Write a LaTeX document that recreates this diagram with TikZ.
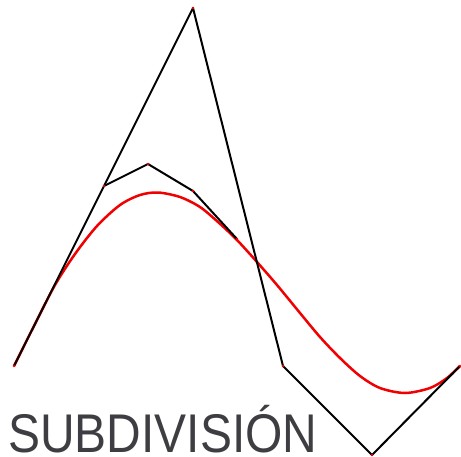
\documentclass[tikz,border=0pt]{standalone}
\usepackage{fontspec}
\setmainfont{Liberation Sans}
\definecolor{txtgray}{RGB}{62,62,66}
\definecolor{cred}{RGB}{240,0,0}
\tikzset{
  poly/.style={draw=black, line width=2pt, line join=round},
  curve/.style={draw=cred, line width=2.5pt},
  vdot/.style={circle, fill=cred, inner sep=0pt, minimum size=2.6pt},
}
\begin{document}
\begin{tikzpicture}[x=1pt,y=-1pt]
\useasboundingbox (0,0) rectangle (461,456);
% red curve
\draw[curve] plot[smooth, tension=0.5] coordinates {
 (14,366) (36,322) (55,285) (75,254) (97,226) (120,205) (140,195) (158,192.5)
 (180,197) (200,207) (218,222) (237,240) (257,262) (277,285) (300,313)
 (320,337) (340,358) (360,376) (380,388) (405,393) (430,388) (447,378) (460,366)};
% control polygon
\coordinate (p0) at (14,366);
\coordinate (p1) at (193,8);
\coordinate (p2) at (283,366);
\coordinate (p3) at (372,455);
\coordinate (p4) at (460,366);
\draw[poly] (p0) -- (p1) -- (p2) -- (p3) -- (p4);
% subdivided polygon
\coordinate (q1) at (104,186);
\coordinate (q2) at (148,164);
\coordinate (q3) at (193,191);
\coordinate (q4) at (237,239);
\draw[poly] (q1) -- (q2) -- (q3) -- (q4);
\foreach \c in {p0,p1,p2,p3,p4,q1,q2,q3,q4} \node[vdot] at (\c) {};
% title
\node[anchor=base west, inner sep=0pt, text=txtgray] (title) at (8,452)
  {\scalebox{0.88}[1]{\fontsize{54.5pt}{54.5pt}\selectfont SUBDIVISIÓN}};
\end{tikzpicture}
\end{document}
